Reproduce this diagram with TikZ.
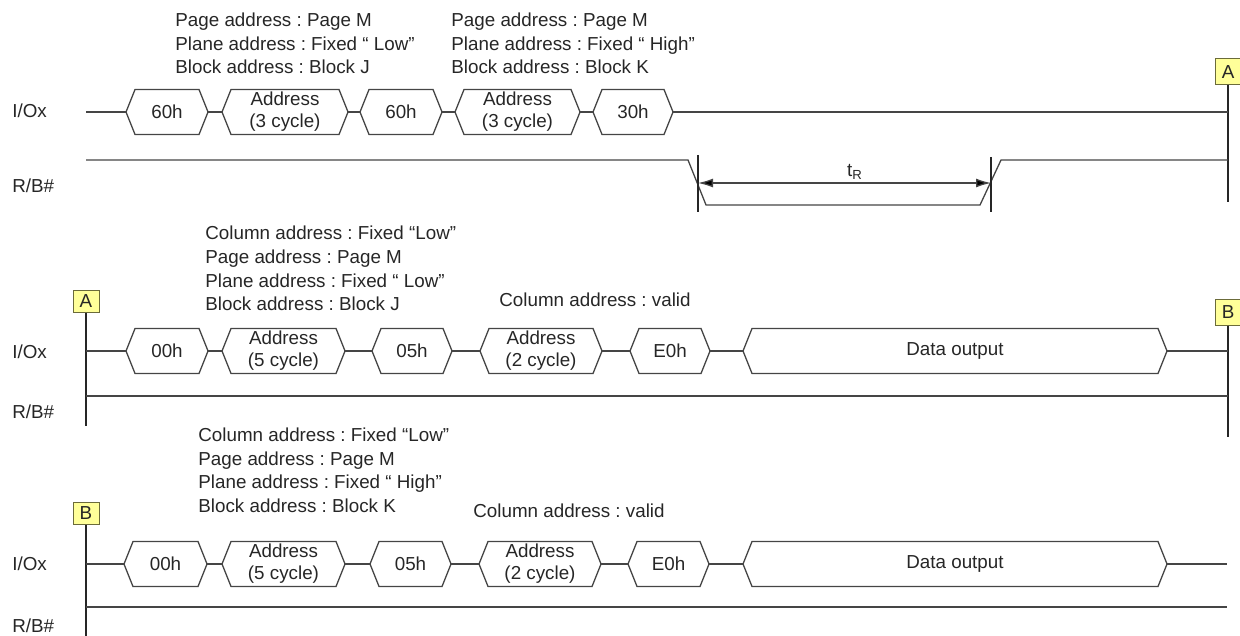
\documentclass[tikz,border=0pt]{standalone}
\usepackage{fontspec}
\setmainfont{Liberation Sans}
\usetikzlibrary{arrows.meta}
\frenchspacing
\definecolor{ln}{HTML}{454545}
\definecolor{tx}{HTML}{262626}
\definecolor{mk}{HTML}{FFFF99}
\definecolor{mkb}{HTML}{6B6B3A}
\tikzset{
  sig/.style={draw=ln, line width=0.65pt, line join=miter},
  txt/.style={font=\fontsize{9.4}{11}\selectfont, text=tx, inner sep=0pt},
  hdr/.style={txt, anchor=base west},
  marker/.style={draw=mkb, fill=mk, line width=0.5pt, minimum width=13pt, inner sep=0pt, txt},
  vline/.style={draw=black!85, line width=0.55pt},
  dimarrow/.style={sig, {Latex[length=7.5pt,width=4.5pt,fill=black]}-{Latex[length=7.5pt,width=4.5pt,fill=black]}},
}
\newcommand\hexsig[5]{%
  \draw[sig] (#2,#4) -- ({#2+9},{#4-22.5}) -- ({#3-9},{#4-22.5}) -- (#3,#4)
    -- ({#3-9},{#4+22.5}) -- ({#2+9},{#4+22.5}) -- cycle;
  \coordinate (#1-w) at (#2,#4);
  \coordinate (#1-e) at (#3,#4);
  \node[txt, align=center] (#1) at ({(#2+#3)/2},#4) {#5};
}
\begin{document}
\begin{tikzpicture}[x=0.5pt, y=-0.5pt]
\useasboundingbox (0,0) rectangle (1240,636);

% ---------------- Row 1 ----------------
\node[hdr] (h1a) at (175,27) {Page address : Page M};
\node[hdr] (h1b) at (175,50.5) {Plane address : Fixed “ Low”};
\node[hdr] (h1c) at (175,74) {Block address : Block J};
\node[hdr] (h2a) at (451,27) {Page address : Page M};
\node[hdr] (h2b) at (451,50.5) {Plane address : Fixed “ High”};
\node[hdr] (h2c) at (451,74) {Block address : Block K};

\node[hdr] (io1) at (12,118) {I/Ox};
\node[hdr] (rb1) at (12,192) {R/B\#};

\node[marker, minimum height=13pt] (mA1) at (1228,72) {A};
\coordinate (mA1b) at (1228,202);
\draw[vline] (mA1.south) -- (mA1b);

\hexsig{r1a}{126}{208}{112}{60h}
\hexsig{r1b}{222}{348}{112}{Address\\(3 cycle)}
\hexsig{r1c}{360}{442}{112}{60h}
\hexsig{r1d}{455}{580}{112}{Address\\(3 cycle)}
\hexsig{r1e}{593}{673}{112}{30h}
\coordinate (r1s) at (86,112);
\draw[sig] (r1s) -- (r1a-w);
\draw[sig] (r1a-e) -- (r1b-w);
\draw[sig] (r1b-e) -- (r1c-w);
\draw[sig] (r1c-e) -- (r1d-w);
\draw[sig] (r1d-e) -- (r1e-w);
\draw[sig] (r1e-e) -- (r1e-e -| mA1b);

\coordinate (rb1s) at (86,160);
\coordinate (f1) at (688,160);
\coordinate (f2) at (706,205);
\coordinate (u1) at (980,205);
\coordinate (u2) at (1001,160);
\draw[sig] (rb1s) -- (f1) -- (f2) -- (u1) -- (u2) -- (u2 -| mA1b);

\coordinate (d1t) at (698,155);
\coordinate (d1b) at (698,212);
\coordinate (d2t) at (991,157);
\coordinate (d2b) at (991,212);
\draw[vline] (d1t) -- (d1b);
\draw[vline] (d2t) -- (d2b);
\coordinate (a1) at (698,183);
\coordinate (a2) at (991,183);
\draw[dimarrow] (a1) -- (a2);
\node[txt] (tR) at (855,172) {t\textsubscript{R}};

% ---------------- Row 2 ----------------
\node[hdr] (h3a) at (205,239) {Column address : Fixed “Low”};
\node[hdr] (h3b) at (205,263) {Page address : Page M};
\node[hdr] (h3c) at (205,287) {Plane address : Fixed “ Low”};
\node[hdr] (h3d) at (205,310) {Block address : Block J};
\node[hdr] (h3e) at (499,306) {Column address : valid};

\node[hdr] (io2) at (12,358) {I/Ox};
\node[hdr] (rb2) at (12,418) {R/B\#};

\node[marker, minimum height=11pt] (mA2) at (86,301) {A};
\coordinate (mA2b) at (86,426);
\draw[vline] (mA2.south) -- (mA2b);
\node[marker, minimum height=13pt] (mB1) at (1228,312) {B};
\coordinate (mB1b) at (1228,437);
\draw[vline] (mB1.south) -- (mB1b);

\hexsig{r2a}{126}{208}{351}{00h}
\hexsig{r2b}{222}{345}{351}{Address\\(5 cycle)}
\hexsig{r2c}{372}{452}{351}{05h}
\hexsig{r2d}{480}{602}{351}{Address\\(2 cycle)}
\hexsig{r2e}{630}{710}{351}{E0h}
\hexsig{r2f}{743}{1167}{351}{Data output}
\draw[sig] (r2a-w -| mA2b) -- (r2a-w);
\draw[sig] (r2a-e) -- (r2b-w);
\draw[sig] (r2b-e) -- (r2c-w);
\draw[sig] (r2c-e) -- (r2d-w);
\draw[sig] (r2d-e) -- (r2e-w);
\draw[sig] (r2e-e) -- (r2f-w);
\draw[sig] (r2f-e) -- (r2f-e -| mB1b);
\coordinate (rb2s) at (86,396);
\draw[sig] (rb2s) -- (rb2s -| mB1b);

% ---------------- Row 3 ----------------
\node[hdr] (h4a) at (198,441) {Column address : Fixed “Low”};
\node[hdr] (h4b) at (198,465) {Page address : Page M};
\node[hdr] (h4c) at (198,488) {Plane address : Fixed “ High”};
\node[hdr] (h4d) at (198,512) {Block address : Block K};
\node[hdr] (h4e) at (473,517) {Column address : valid};

\node[hdr] (io3) at (12,570) {I/Ox};
\node[hdr] (rb3) at (12,632) {R/B\#};

\node[marker, minimum height=11pt] (mB2) at (86,513.5) {B};
\coordinate (mB2b) at (86,636);
\draw[vline] (mB2.south) -- (mB2b);

\hexsig{r3a}{124}{207}{564}{00h}
\hexsig{r3b}{222}{345}{564}{Address\\(5 cycle)}
\hexsig{r3c}{370}{451}{564}{05h}
\hexsig{r3d}{479}{601}{564}{Address\\(2 cycle)}
\hexsig{r3e}{628}{709}{564}{E0h}
\hexsig{r3f}{743}{1167}{564}{Data output}
\coordinate (r3end) at (1227,564);
\draw[sig] (r3a-w -| mB2b) -- (r3a-w);
\draw[sig] (r3a-e) -- (r3b-w);
\draw[sig] (r3b-e) -- (r3c-w);
\draw[sig] (r3c-e) -- (r3d-w);
\draw[sig] (r3d-e) -- (r3e-w);
\draw[sig] (r3e-e) -- (r3f-w);
\draw[sig] (r3f-e) -- (r3end);
\coordinate (rb3s) at (86,607);
\coordinate (rb3e) at (1227,607);
\draw[sig] (rb3s) -- (rb3e);
\end{tikzpicture}
\end{document}
